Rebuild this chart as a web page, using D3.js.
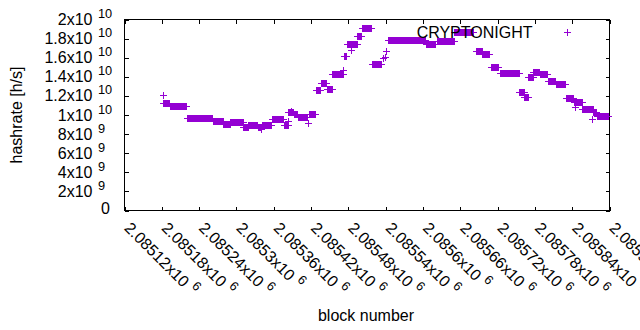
<!DOCTYPE html>
<head>
  <meta charset="utf-8">
  <script src="https://cdn.jsdelivr.net/npm/d3@7"></script>
  <style>
    body { margin: 0; background: #fff; }
    text { font-family: "Liberation Sans", Arial, sans-serif; font-size: 16px; fill: #000; }
    .tick line { stroke: #000; shape-rendering: crispEdges; }
  </style>
</head>
<body>
  <svg width="640" height="330"></svg>
  <script>

  // runs of blocks that report the same hashrate (values in units of 1e9 h/s)
  var runStart = [2085182, 2085183, 2085194, 2085221, 2085263, 2085280, 2085291, 2085312, 2085320, 2085335,
                  2085342, 2085358, 2085377, 2085384, 2085393, 2085400, 2085416, 2085417, 2085428, 2085437,
                  2085446, 2085455, 2085474, 2085478, 2085495, 2085502, 2085519, 2085537, 2085540, 2085542,
                  2085545, 2085605, 2085623, 2085651, 2085686, 2085696, 2085710, 2085724, 2085756, 2085764,
                  2085770, 2085778, 2085789, 2085802, 2085814, 2085831, 2085843, 2085857, 2085875, 2085880];
  var runEnd   = [2085182, 2085193, 2085220, 2085262, 2085279, 2085290, 2085311, 2085319, 2085334, 2085341,
                  2085357, 2085376, 2085383, 2085392, 2085399, 2085415, 2085416, 2085427, 2085436, 2085445,
                  2085454, 2085473, 2085477, 2085494, 2085501, 2085518, 2085534, 2085537, 2085540, 2085542,
                  2085604, 2085620, 2085650, 2085682, 2085695, 2085707, 2085722, 2085755, 2085763, 2085769,
                  2085777, 2085788, 2085801, 2085813, 2085830, 2085842, 2085856, 2085874, 2085879, 2085898];
  var runRate  = [12.0, 11.2, 10.9, 9.63, 9.27, 9.03, 9.21, 8.69, 8.9, 8.64,
                  8.88, 9.52, 8.9, 10.3, 10.08, 9.73, 9.1, 10.1, 12.55, 13.26,
                  12.64, 14.2, 16.1, 17.42, 18.26, 19.03, 15.27, 15.9, 16.0, 16.7,
                  17.8, 17.42, 17.7, 18.61, 16.63, 16.3, 14.97, 14.37, 12.34, 11.8,
                  13.9, 14.5, 14.24, 13.5, 13.18, 11.72, 11.26, 10.57, 10.27, 9.8];

  // stray single reports
  var singleBlock = [2085340, 2085473, 2085485, 2085845, 2085873, 2085383, 2085389];
  var singleRate  = [8.46, 14.67, 16.8, 10.8, 9.5, 9.27, 10.4];

  var xTicks = [2085120, 2085180, 2085240, 2085300, 2085360, 2085420, 2085480,
                2085540, 2085600, 2085660, 2085720, 2085780, 2085840, 2085900];
  var yTicks = [0, 2e9, 4e9, 6e9, 8e9, 1e10, 1.2e10, 1.4e10, 1.6e10, 1.8e10, 2e10];
  var seriesName = "CRYPTONIGHT";

  var svg = d3.select("svg");
  var plotL = 124.5, plotR = 609.5, plotT = 19.5, plotB = 210.5;

  var x = d3.scaleLinear().domain([2085120, 2085900]).range([plotL, plotR]);
  var y = d3.scaleLinear().domain([0, 2e10]).range([plotB, plotT]);

  var points = [];
  runStart.forEach(function(s, i) {
    d3.range(s, runEnd[i] + 1).forEach(function(b) { points.push([b, runRate[i] * 1e9]); });
  });
  singleBlock.forEach(function(b, i) { points.push([b, singleRate[i] * 1e9]); });

  // gnuplot style inward ticks on all four sides
  svg.append("g").attr("transform", "translate(" + plotL + ",0)")
      .call(d3.axisLeft(y).tickValues(yTicks).tickSize(-4).tickFormat(""));
  svg.append("g").attr("transform", "translate(" + plotR + ",0)")
      .call(d3.axisRight(y).tickValues(yTicks).tickSize(-4).tickFormat(""));
  svg.append("g").attr("transform", "translate(0," + plotB + ")")
      .call(d3.axisBottom(x).tickValues(xTicks).tickSize(-4).tickFormat(""));
  svg.append("g").attr("transform", "translate(0," + plotT + ")")
      .call(d3.axisTop(x).tickValues(xTicks).tickSize(-4).tickFormat(""));
  svg.selectAll(".domain").remove();

  svg.append("rect")
      .attr("x", plotL).attr("y", plotT)
      .attr("width", plotR - plotL).attr("height", plotB - plotT)
      .attr("fill", "none").attr("stroke", "#000")
      .attr("shape-rendering", "crispEdges");

  function sci(v) {
    var e = Math.floor(Math.log10(v) + 1e-9);
    return { m: String(+(v / Math.pow(10, e)).toPrecision(9)), e: String(e) };
  }

  // y tick labels
  yTicks.forEach(function(v) {
    var ty = y(v);
    if (v === 0) {
      svg.append("text").attr("x", 110).attr("y", ty + 3)
          .attr("text-anchor", "end").text("0");
      return;
    }
    var p = sci(v);
    svg.append("text").attr("x", 92.5).attr("y", ty + 5.5)
        .attr("text-anchor", "end").text(p.m + "x10");
    svg.append("text").attr("x", 98).attr("y", ty - 1.5)
        .style("font-size", "12.8px").text(p.e);
  });

  // x tick labels, rotated
  xTicks.forEach(function(v) {
    var p = sci(v);
    var t = svg.append("text")
        .attr("transform", "translate(" + (x(v) - 1) + ",229) rotate(45)");
    t.append("tspan").text(p.m + "x10");
    t.append("tspan").attr("dx", 5).attr("dy", -7)
        .style("font-size", "12.8px").text(p.e);
  });

  svg.append("text")
      .attr("transform", "translate(22,115) rotate(-90)")
      .attr("text-anchor", "middle")
      .text("hashrate [h/s]");

  svg.append("text")
      .attr("x", 366).attr("y", 321)
      .attr("text-anchor", "middle")
      .text("block number");

  function plus(path, cx, cy) {
    var px = Math.round(cx - 0.5), py = Math.round(cy - 0.5);
    path.moveTo(px - 3, py + 0.5); path.lineTo(px + 4, py + 0.5);
    path.moveTo(px + 0.5, py - 3); path.lineTo(px + 0.5, py + 4);
  }

  var pts = d3.path();
  points.forEach(function(d) { plus(pts, x(d[0]), y(d[1])); });

  svg.append("path")
      .attr("d", pts.toString())
      .attr("fill", "none")
      .attr("stroke", "#9400d3")
      .attr("stroke-width", 1)
      .attr("shape-rendering", "crispEdges");

  // key
  svg.append("text")
      .attr("x", 532.5).attr("y", 37.5)
      .attr("text-anchor", "end")
      .text(seriesName);
  var key = d3.path();
  plus(key, 567.5, 32.5);
  svg.append("path")
      .attr("d", key.toString())
      .attr("fill", "none")
      .attr("stroke", "#9400d3")
      .attr("shape-rendering", "crispEdges");
  </script>
</body>
